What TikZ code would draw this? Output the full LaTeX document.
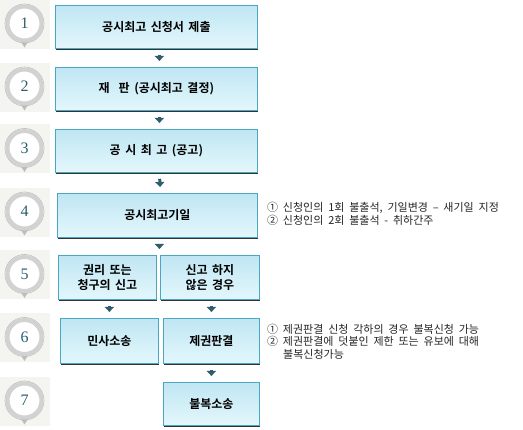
\documentclass[tikz,border=0pt]{standalone}
\usepackage{fontspec}
\newfontfamily\kr{Noto Sans CJK KR}
\newfontfamily\krb{Noto Sans CJK KR Bold}
\setmainfont{Liberation Serif}
\usetikzlibrary{arrows.meta}
\definecolor{boxtop}{HTML}{BFE6F3}
\definecolor{boxbot}{HTML}{E4F7FC}
\definecolor{boxline}{HTML}{4BA6C2}
\definecolor{arrowc}{HTML}{2F5D6D}
\definecolor{numc}{HTML}{2C5F6E}
\definecolor{ringc}{HTML}{D2D2D2}
\definecolor{ringdark}{HTML}{BDBDBD}
\definecolor{pinbg}{HTML}{F4F4F1}
\newcommand{\boxfont}{\krb\fontsize{12}{14.5}\selectfont\spaceskip 4.5pt\relax}
\newcommand{\notefont}{\kr\fontsize{11}{12}\selectfont\spaceskip 4.8pt\relax}
\tikzset{
  stepbox/.style={rectangle, draw=boxline, line width=0.8pt, top color=boxtop, bottom color=boxbot,
    anchor=north west, inner sep=0pt, align=center, font=\boxfont, minimum width=#1},
  boxshadow/.style={fill=black!80},
  conn/.style={draw=arrowc, line width=3pt, -{Triangle[width=9pt,length=5pt]}, shorten <=6pt, shorten >=6pt},
  numpin/.style={circle, draw=ringc, line width=4pt, fill=white, minimum size=34pt, inner sep=0pt,
    text=numc, font=\fontsize{16}{16}\selectfont},
  note/.style={anchor=west, inner sep=0pt, font=\notefont, text=black!85}
}
\newcommand{\pinat}[3]{%
  \fill[pinbg] (0,#2-23.5) rectangle (50,#2+25.5);
  \fill[ringdark] (#1-5,#2+16) -- (#1,#2+24) -- (#1+5,#2+16) -- cycle;
  \draw[ringdark, line width=0.6pt] (#1,#2) circle (19.5);
  \node[numpin] (p#3) at (#1,#2) {#3};
}
\newcommand{\boxshade}[4]{\fill[boxshadow] (#1+1,#2+1) rectangle (#3+1,#4+1.8);}
\begin{document}
\begin{tikzpicture}[x=1pt,y=-1pt]
\useasboundingbox (0,0) rectangle (523,430);
\fill[white] (0,0) rectangle (523,430);

\pinat{24.5}{23.5}{1}
\pinat{24.5}{86.5}{2}
\pinat{24.5}{148}{3}
\pinat{24.5}{211.5}{4}
\pinat{24.5}{274}{5}
\pinat{24.5}{337}{6}
\pinat{24.5}{400.5}{7}

\boxshade{55}{5}{257}{48}
\node[stepbox=202pt, minimum height=43pt] (b1) at (55,5) {공시최고 신청서 제출};
\boxshade{55}{67}{257}{110}
\node[stepbox=202pt, minimum height=43pt] (b2) at (55,67) {재\hspace{9pt}판 (공시최고 결정)};
\boxshade{55}{129}{257}{172}
\node[stepbox=202pt, minimum height=43pt] (b3) at (55,129) {공 시 최 고 (공고)};
\boxshade{57}{193}{257}{237}
\node[stepbox=200pt, minimum height=44pt] (b4) at (57,193) {공시최고기일};
\boxshade{58}{255}{156}{299}
\node[stepbox=98pt, minimum height=44pt] (b5a) at (58,255) {권리 또는\\청구의 신고};
\boxshade{160}{255}{259}{299}
\node[stepbox=99pt, minimum height=44pt] (b5b) at (160,255) {신고 하지\\않은 경우};
\boxshade{60}{318}{158}{363}
\node[stepbox=98pt, minimum height=45pt] (b6a) at (60,318) {민사소송};
\boxshade{163}{318}{259}{363}
\node[stepbox=96pt, minimum height=45pt] (b6b) at (163,318) {제권판결};
\boxshade{163}{382}{259}{425}
\node[stepbox=96pt, minimum height=43pt] (b7) at (163,382) {불복소송};

\draw[conn] ([xshift=3pt]b1.south) -- ([xshift=3pt]b2.north);
\draw[conn] ([xshift=3pt]b2.south) -- ([xshift=3pt]b3.north);
\draw[conn] ([xshift=3pt]b3.south) -- ([xshift=3pt]b4.north);
\draw[conn] ([xshift=2pt]b4.south) -- ([xshift=2pt]b4.south |- b5a.north);
\draw[conn] ([xshift=2pt]b5a.south) -- ([xshift=2pt]b5a.south |- b6a.north);
\draw[conn] ([xshift=1.5pt]b5b.south) -- ([xshift=1.5pt]b5b.south |- b6b.north);
\draw[conn] (b6b.south) -- (b7.north);

\node[note] (n4a) at (267,207.5) {① 신청인의 1회 불출석, 기일변경 – 새기일 지정};
\node[note] (n4b) at (267,220.5) {② 신청인의 2회 불출석 - 취하간주};
\node[note] (n6a) at (267,329) {① 제권판결 신청 각하의 경우 불복신청 가능};
\node[note] (n6b) at (267,341.5) {② 제권판결에 덧붙인 제한 또는 유보에 대해};
\node[note] (n6c) at (283,354) {불복신청가능};
\end{tikzpicture}
\end{document}
